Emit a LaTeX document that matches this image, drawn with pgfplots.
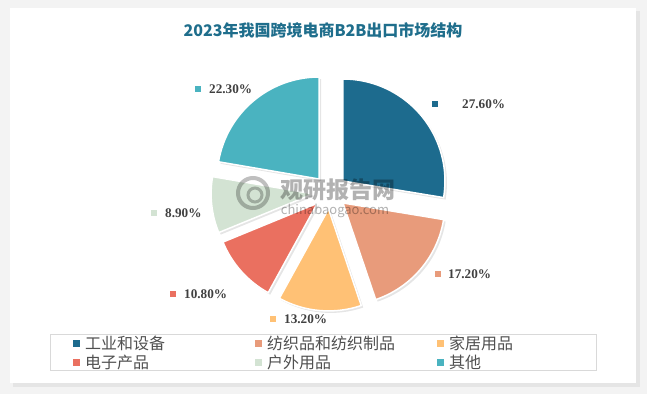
\documentclass[border=0pt]{standalone}
\usepackage{fontspec}
\setmainfont{Liberation Serif}
\newfontfamily\cjk{Noto Sans CJK SC}
\usepackage{pgfplots}
\usepackage{pgfplotstable}
\pgfplotsset{compat=1.18}
\definecolor{c0}{HTML}{1D6B8E}
\definecolor{c1}{HTML}{E89B7B}
\definecolor{c2}{HTML}{FFC175}
\definecolor{c3}{HTML}{EA7060}
\definecolor{c4}{HTML}{D3E3D3}
\definecolor{c5}{HTML}{4AB3C0}
\definecolor{titleblue}{HTML}{1F6E8C}
\definecolor{labgray}{HTML}{404040}
\definecolor{leggray}{HTML}{505050}
\definecolor{bggray}{HTML}{F3F3F3}
% v = share (%), mx/my = label marker position, tx = label text left edge
\pgfplotstableread{
v mx my tx
27.6 435 104 462
17.2 438 274 448
13.2 273 319 284
10.8 173 294 184
8.9 154 213 165
22.3 198 89 209
}\piedata
\begin{document}
\begin{tikzpicture}
\begin{axis}[scale only axis, width=647bp, height=394bp,
  xmin=0, xmax=647, ymin=0, ymax=394, y dir=reverse,
  hide axis, clip=false]
\pgfplotsextra{
  \fill[bggray] (axis cs:0,0) rectangle (axis cs:647,394);
  \fill[black!10] (axis cs:13,11) rectangle (axis cs:640,387);
  \fill[white] (axis cs:10,8) rectangle (axis cs:636,383);
  \node[font=\cjk\bfseries\fontsize{16bp}{18bp}\selectfont, text=titleblue] at (axis cs:323,30) {2023年我国跨境电商B2B出口市场结构};
  \xdef\cum{0}
  \pgfplotstablegetrowsof{\piedata}
  \pgfmathtruncatemacro\nrows{\pgfplotsretval-1}
  \foreach \i in {0,...,\nrows}{
    \pgfplotstablegetelem{\i}{v}\of\piedata \let\val\pgfplotsretval
    \pgfplotstablegetelem{\i}{mx}\of\piedata \let\mx\pgfplotsretval
    \pgfplotstablegetelem{\i}{my}\of\piedata \let\my\pgfplotsretval
    \pgfplotstablegetelem{\i}{tx}\of\piedata \let\tx\pgfplotsretval
    \pgfmathsetmacro\aone{90-3.6*\cum}
    \pgfmathsetmacro\atwo{\aone-3.6*\val}
    \pgfmathsetmacro\amid{(\aone+\atwo)/2}
    \pgfmathsetmacro\px{330+17*cos(\amid)}
    \pgfmathsetmacro\py{192-17*sin(\amid)}
    \pgfmathsetmacro\sx{\px+102*cos(\aone)}
    \pgfmathsetmacro\sy{\py-102*sin(\aone)}
    \pgfmathsetmacro\newcum{\cum+\val}\xdef\cum{\newcum}
    \fill[black, opacity=0.10] (axis cs:\px+2,\py+2) -- (axis cs:\sx+2,\sy+2) arc[start angle=\aone, end angle=\atwo, radius=102bp] -- cycle;
    \draw[white, line width=1.5bp, fill=c\i] (axis cs:\px,\py) -- (axis cs:\sx,\sy) arc[start angle=\aone, end angle=\atwo, radius=102bp] -- cycle;
    \fill[c\i] (axis cs:\mx-3,\my-3) rectangle (axis cs:\mx+3,\my+3);
    \node[anchor=west, inner sep=0pt, font=\bfseries\fontsize{13.2bp}{15bp}\selectfont, text=labgray] at (axis cs:\tx,\my) {\pgfmathprintnumber[fixed, fixed zerofill, precision=2, assume math mode=true]{\val}\%};
  }
  % watermark
  \node[font=\cjk\bfseries\fontsize{23bp}{25bp}\selectfont, text=black, opacity=0.3] at (axis cs:338,190) {观研报告网};
  \node[font=\cjk\fontsize{13bp}{15bp}\selectfont, text=black, opacity=0.3] at (axis cs:335,211) {chinabaogao.com};
  \draw[black, opacity=0.25, line width=4bp] (axis cs:253,193) circle[radius=15bp];
  \draw[black, opacity=0.25, line width=3bp] (axis cs:255,195) circle[radius=7bp];
  % legend
  \draw[black!15, line width=1bp] (axis cs:50,334) rectangle (axis cs:596,370);
  \foreach \c/\x/\y/\t in {c0/76/343/工业和设备, c1/258/343/纺织品和纺织制品, c2/440/343/家居用品, c3/76/362.5/电子产品, c4/258/362.5/户外用品, c5/440/362.5/其他}{
    \fill[\c] (axis cs:\x-3.5,\y-3.5) rectangle (axis cs:\x+3.5,\y+3.5);
    \node[anchor=west, inner sep=0pt, font=\cjk\fontsize{16bp}{18bp}\selectfont, text=leggray] at (axis cs:\x+9,\y) {\t};
  }
}
\end{axis}
\end{tikzpicture}
\end{document}
